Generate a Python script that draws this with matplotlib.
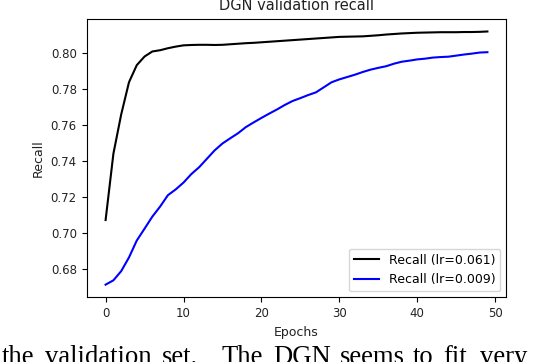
import matplotlib
matplotlib.use('Agg')
import matplotlib.pyplot as plt
import numpy as np

# DGN validation recall per epoch
epochs = np.arange(50)
recall_061 = [0.7072, 0.7440, 0.7658, 0.7837, 0.7932, 0.7980, 0.8008, 0.8015, 0.8026, 0.8035,
              0.8042, 0.8044, 0.8045, 0.8045, 0.8044, 0.8045, 0.8048, 0.8051, 0.8054, 0.8056,
              0.8059, 0.8062, 0.8065, 0.8068, 0.8071, 0.8074, 0.8077, 0.8080, 0.8083, 0.8086,
              0.8089, 0.8090, 0.8091, 0.8092, 0.8095, 0.8098, 0.8102, 0.8105, 0.8108, 0.8110,
              0.8112, 0.8113, 0.8114, 0.8115, 0.8115, 0.8115, 0.8116, 0.8116, 0.8117, 0.8119]
recall_009 = [0.6713, 0.6737, 0.6788, 0.6864, 0.6958, 0.7024, 0.7091, 0.7147, 0.7210, 0.7242,
              0.7280, 0.7327, 0.7365, 0.7412, 0.7459, 0.7497, 0.7526, 0.7554, 0.7588, 0.7614,
              0.7639, 0.7663, 0.7686, 0.7711, 0.7733, 0.7749, 0.7766, 0.7781, 0.7809, 0.7837,
              0.7853, 0.7866, 0.7879, 0.7894, 0.7907, 0.7917, 0.7926, 0.7940, 0.7951, 0.7957,
              0.7964, 0.7968, 0.7974, 0.7977, 0.7979, 0.7985, 0.7991, 0.7996, 0.8002, 0.8004]
labels = ['Recall (lr=0.061)', 'Recall (lr=0.009)']

caption_words = ['the', 'validation', 'set.', 'The', 'DGN', 'seems', 'to', 'fit', 'very']
caption_x = [1.5, 45, 162, 222, 273, 340, 413, 443, 480]  # left edge of each word, px

fig = plt.figure(figsize=(5.34, 3.62), dpi=100)
ax = fig.add_axes([0.162, 0.1787, 0.7865, 0.7693])

ax.plot(epochs, recall_061, color='black', linewidth=1.5, label=labels[0])
ax.plot(epochs, recall_009, color='blue', linewidth=1.5, label=labels[1])

ax.set_title('DGN validation recall', fontsize=10.5, color='#222222')
ax.set_xlabel('Epochs', fontsize=9, color='#222222')
ax.set_ylabel('Recall', fontsize=9, color='#222222')
ax.set_yticks([0.68, 0.70, 0.72, 0.74, 0.76, 0.78, 0.80])
ax.set_xticks([0, 10, 20, 30, 40, 50])
ax.tick_params(labelsize=8.5, labelcolor='#222222')
ax.legend(loc='lower right', fontsize=9)

# caption of the paper below the chart, cut at the bottom edge as in the page scan
for w, x in zip(caption_words, caption_x):
    fig.text(x / 534, -1.5 / 362, w, family='Liberation Serif', fontsize=19.2,
             va='baseline', ha='left', color='black')

fig.savefig('out.png', dpi=100)
